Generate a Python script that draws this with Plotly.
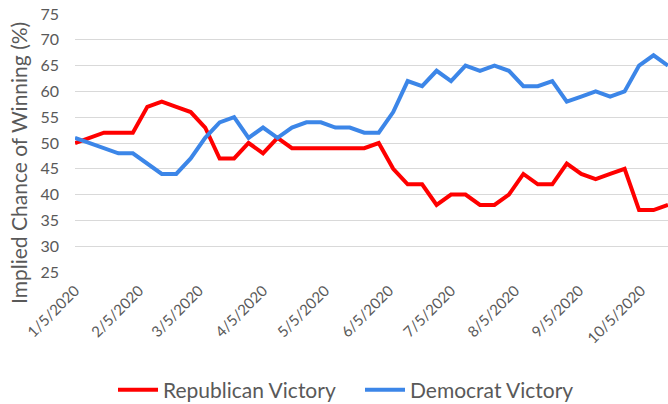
import plotly.graph_objects as go

dates = [
    "2020-01-05", "2020-01-12", "2020-01-19", "2020-01-26", "2020-02-02", "2020-02-09",
    "2020-02-16", "2020-02-23", "2020-03-01", "2020-03-08", "2020-03-15", "2020-03-22",
    "2020-03-29", "2020-04-05", "2020-04-12", "2020-04-19", "2020-04-26", "2020-05-03",
    "2020-05-10", "2020-05-17", "2020-05-24", "2020-05-31", "2020-06-07", "2020-06-14",
    "2020-06-21", "2020-06-28", "2020-07-05", "2020-07-12", "2020-07-19", "2020-07-26",
    "2020-08-02", "2020-08-09", "2020-08-16", "2020-08-23", "2020-08-30", "2020-09-06",
    "2020-09-13", "2020-09-20", "2020-09-27", "2020-10-04", "2020-10-11", "2020-10-18",
]

republican = [
    50, 51, 52, 52, 52, 57, 58, 57, 56, 53, 47, 47, 50, 48, 51, 49, 49, 49, 49, 49,
    49, 50, 45, 42, 42, 38, 40, 40, 38, 38, 40, 44, 42, 42, 46, 44, 43, 44, 45, 37,
    37, 38,
]

democrat = [
    51, 50, 49, 48, 48, 46, 44, 44, 47, 51, 54, 55, 51, 53, 51, 53, 54, 54, 53, 53,
    52, 52, 56, 62, 61, 64, 62, 65, 64, 65, 64, 61, 61, 62, 58, 59, 60, 59, 60, 65,
    67, 65,
]

tick_dates = ["2020-01-05", "2020-02-05", "2020-03-05", "2020-04-05", "2020-05-05",
              "2020-06-05", "2020-07-05", "2020-08-05", "2020-09-05", "2020-10-05"]
tick_labels = ["1/5/2020", "2/5/2020", "3/5/2020", "4/5/2020", "5/5/2020",
               "6/5/2020", "7/5/2020", "8/5/2020", "9/5/2020", "10/5/2020"]
y_ticks = [25, 30, 35, 40, 45, 50, 55, 60, 65, 70, 75]

FONT = "Lato"
GRAY = "#595959"

fig = go.Figure()
fig.add_trace(go.Scatter(x=dates, y=republican, mode="lines", name="Republican Victory",
                         line=dict(color="#FF0000", width=4)))
fig.add_trace(go.Scatter(x=dates, y=democrat, mode="lines", name="Democrat Victory",
                         line=dict(color="#3C86E8", width=4)))

fig.update_layout(
    width=668, height=404,
    margin=dict(l=75, r=0, t=14, b=132, autoexpand=False),
    paper_bgcolor="white", plot_bgcolor="white",
    font=dict(family=FONT, color=GRAY),
    showlegend=True,
    legend=dict(orientation="h", xref="container", yref="container",
                x=113 / 668, xanchor="left", y=1 - 390 / 404, yanchor="middle",
                font=dict(size=21, color=GRAY, family=FONT),
                itemwidth=40, entrywidth=192, entrywidthmode="pixels",
                tracegroupgap=0),
    annotations=[dict(text="Implied Chance of Winning (%)", textangle=-90,
                      xref="paper", yref="paper", x=0, y=0.5, xanchor="center",
                      yanchor="middle", xshift=-57, yshift=-20, showarrow=False,
                      font=dict(size=21, color=GRAY, family=FONT))],
)
fig.update_xaxes(type="date", range=["2020-01-05", "2020-10-18"],
                 tickvals=tick_dates, ticktext=tick_labels, tickangle=-45,
                 tickfont=dict(size=15, color=GRAY, family=FONT),
                 showgrid=False, showline=False, zeroline=False, ticks="",
                 ticklabelstandoff=6, automargin=False)
fig.update_yaxes(range=[25, 75], tickvals=y_ticks,
                 tickfont=dict(size=16, color=GRAY, family=FONT),
                 showgrid=True, gridcolor="#D9D9D9", gridwidth=1.3,
                 zeroline=False, showline=False, ticks="", ticklabelstandoff=15,
                 automargin=False)

fig.write_html("out.html", config={"displayModeBar": False},
               post_script="document.body.style.margin='0';document.body.style.overflow='hidden';")
